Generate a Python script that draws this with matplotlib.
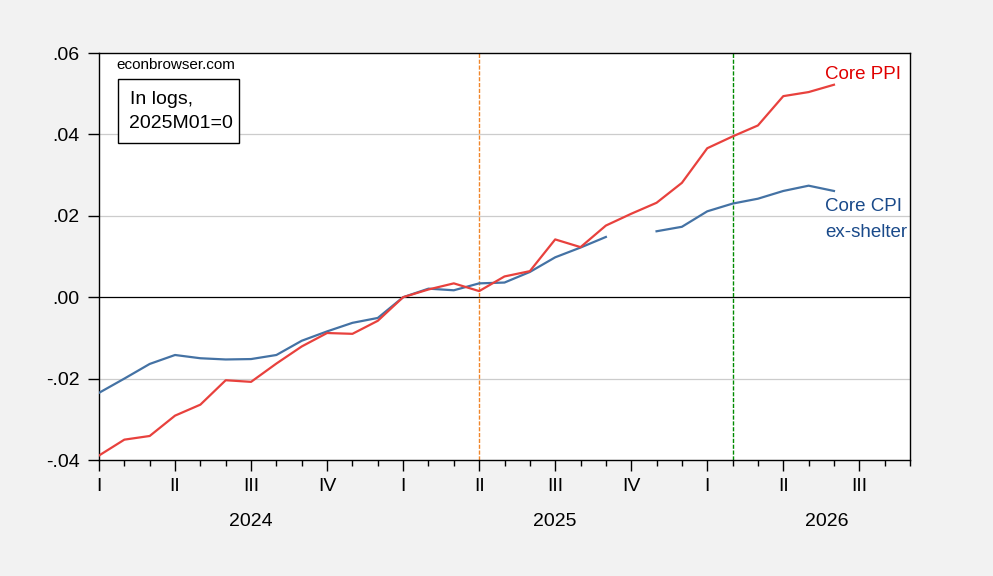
import numpy as np
import matplotlib
matplotlib.use("Agg")
import matplotlib.pyplot as plt
from matplotlib.patches import Rectangle
from matplotlib.transforms import blended_transform_factory

# Months from 2024M01 (index 0) to 2026M06 (index 29)
months = list(range(30))
core_ppi = [-0.0389, -0.0350, -0.0341, -0.0291, -0.0264, -0.0204, -0.0208, -0.0163,
            -0.0121, -0.0088, -0.0090, -0.0058,
            0.0000, 0.0019, 0.0034, 0.0015, 0.0051, 0.0064, 0.0142, 0.0123,
            0.0176, 0.0205, 0.0232, 0.0281,
            0.0366, 0.0395, 0.0422, 0.0494, 0.0504, 0.0522]
core_cpi_xshelter = [-0.0235, -0.0200, -0.0164, -0.0142, -0.0150, -0.0153, -0.0152, -0.0142,
                     -0.0107, -0.0084, -0.0063, -0.0051,
                     0.0000, 0.0021, 0.0017, 0.0034, 0.0036, 0.0062, 0.0098, 0.0122,
                     0.0148, np.nan, 0.0162, 0.0173,
                     0.0211, 0.0230, 0.0242, 0.0261, 0.0274, 0.0261]
quarter_labels = ["I", "II", "III", "IV", "I", "II", "III", "IV", "I", "II", "III"]
year_labels = ["2024", "2025", "2026"]
y_ticks = [0.06, 0.04, 0.02, 0.00, -0.02, -0.04]
y_ticklabels = [".06", ".04", ".02", ".00", "-.02", "-.04"]

FONT = "Liberation Sans"
W, H = 993, 576
fig = plt.figure(figsize=(W / 100, H / 100), dpi=100)
fig.patch.set_facecolor("#f2f2f2")


def px(x, y):
    return (x / W, 1 - y / H)


left, right, top, bottom = 99, 910, 53, 460
ax = fig.add_axes([left / W, 1 - bottom / H, (right - left) / W, (bottom - top) / H])
ax.set_facecolor("white")

ax.plot(months, core_ppi, color="#e8413d", lw=1.6, zorder=4)
ax.plot(months, core_cpi_xshelter, color="#4472a4", lw=1.6, zorder=3)

ax.set_xlim(0, 32)
ax.set_ylim(-0.04, 0.06)

for y in [0.04, 0.02, -0.02]:
    ax.axhline(y, color="#cccccc", lw=0.9, zorder=1)
ax.axhline(0, color="black", lw=0.9, zorder=2)
ax.axvline(15, color="#f0862a", lw=1.0, ls=(0, (3, 1.2)), zorder=2)
ax.axvline(25, color="#008a00", lw=1.0, ls=(0, (3, 1.2)), zorder=2)

ax.set_yticks(y_ticks)
ax.set_yticklabels(y_ticklabels, fontsize=14, family=FONT)
ax.tick_params(axis="y", direction="out", length=8, width=1, pad=6)

qpos = list(range(0, 33, 3))
ax.set_xticks(qpos)
ax.set_xticks(list(range(0, 33)), minor=True)
ax.set_xticklabels(quarter_labels, fontsize=14, family=FONT)
ax.tick_params(axis="x", which="major", direction="out", length=8, width=1, pad=5)
ax.tick_params(axis="x", which="minor", direction="out", length=4, width=1)

for s in ax.spines.values():
    s.set_linewidth(1.0)
    s.set_color("black")

# Year labels
trans = blended_transform_factory(ax.transData, fig.transFigure)
year_pos = [6, 18, 28.7]
for yl, xp in zip(year_labels, year_pos):
    ax.text(xp, 1 - 521 / H, yl, transform=trans, fontsize=14, family=FONT,
            ha="center", va="center", clip_on=False)

fig.text(*px(116, 65), "econbrowser.com", fontsize=11, family=FONT, ha="left", va="center")
fig.patches.append(Rectangle(px(117.5, 143.3), (238.7 - 117.5) / W, (143.3 - 79.3) / H,
                             transform=fig.transFigure, fc="white", ec="black", lw=1,
                             zorder=5))
fig.text(*px(129.5, 99.5), "In logs,", fontsize=14, family=FONT, ha="left", va="center",
         zorder=6)
fig.text(*px(129.5, 123), "2025M01=0", fontsize=14, family=FONT, ha="left", va="center",
         zorder=6)

ax.text(28.66, 0.0548, "Core PPI", color="#e00000", fontsize=13.5, family=FONT,
        ha="left", va="center")
ax.text(28.66, 0.0223, "Core CPI", color="#1a4a8a", fontsize=13.5, family=FONT,
        ha="left", va="center")
ax.text(28.66, 0.0160, "ex-shelter", color="#1a4a8a", fontsize=13.5, family=FONT,
        ha="left", va="center")

fig.savefig("out.png", dpi=100, facecolor=fig.get_facecolor())
